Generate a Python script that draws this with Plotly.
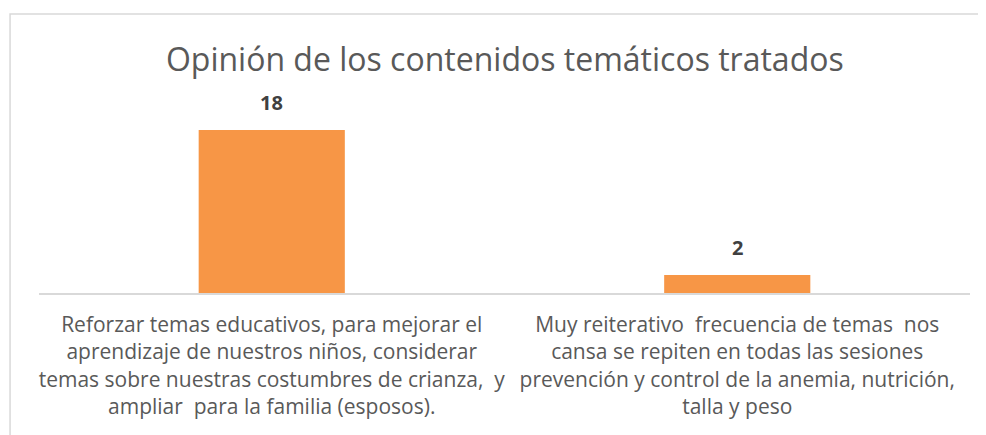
import plotly.graph_objects as go

categories = [
    "Reforzar temas educativos, para mejorar el<br>aprendizaje de nuestros niños, considerar<br>temas sobre nuestras costumbres de crianza,  y<br>ampliar  para la familia (esposos).",
    "Muy reiterativo  frecuencia de temas  nos<br>cansa se repiten en todas las sesiones<br>prevención y control de la anemia, nutrición,<br>talla y peso",
]
values = [18, 2]
title_text = "Opinión de los contenidos temáticos tratados"

fig = go.Figure()
fig.add_trace(go.Bar(
    x=categories,
    y=values,
    marker=dict(color="#F79646", line=dict(width=0)),
    cliponaxis=False,
))

for c, v in zip(categories, values):
    fig.add_annotation(
        x=c, y=v, xref="x", yref="y",
        text=str(v), showarrow=False,
        yanchor="bottom", yshift=12,
        font=dict(family="Open Sans", size=20, color="#404040", weight="bold"),
    )

W, H = 978, 427
fig.update_layout(
    width=W,
    height=H,
    paper_bgcolor="white",
    plot_bgcolor="white",
    margin=dict(l=31, r=16, t=104, b=142),
    bargap=0.686,
    showlegend=False,
    title=dict(
        text=title_text,
        font=dict(family="Open Sans", size=32, color="#595959"),
        x=0.508, xref="container", xanchor="center",
        y=0.878, yref="container", yanchor="middle",
    ),
    xaxis=dict(
        showline=True, linecolor="#D9D9D9", linewidth=1.5,
        showgrid=False, ticks="", ticklabelstandoff=12,
        tickfont=dict(family="Open Sans", size=21, color="#595959"),
    ),
    yaxis=dict(
        range=[0, 20], visible=False, showgrid=False, zeroline=False,
    ),
    shapes=[dict(
        type="rect", xref="paper", yref="paper",
        x0=-0.0311, x1=1.05, y0=-0.85, y1=1.541,
        line=dict(color="#D9D9D9", width=1.5), fillcolor="rgba(0,0,0,0)",
        layer="below",
    )],
)

fig.write_html("out.html")
